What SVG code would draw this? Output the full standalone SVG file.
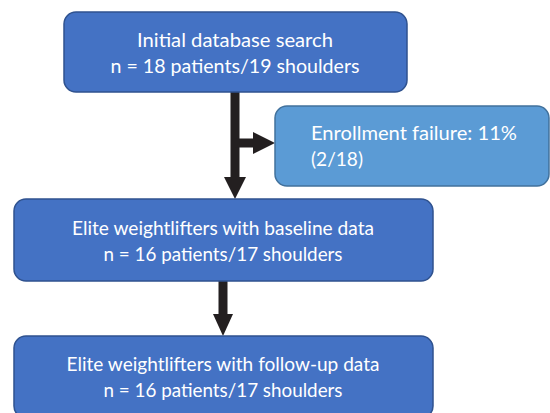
<svg xmlns="http://www.w3.org/2000/svg" width="550" height="413" viewBox="0 0 550 413">
<style>
.box{fill:#4472C4;stroke:#2F528F;stroke-width:1.5}
.side{fill:#5B9BD5;stroke:#41719C;stroke-width:1.5}
text{font-family:Lato,"Open Sans","Liberation Sans",sans-serif;font-size:18.5px;fill:#fff}
.c{text-anchor:middle}
.ln{stroke:#231F20;stroke-width:9;fill:none}
.ah{fill:#231F20}
</style>
<rect width="550" height="413" fill="#fff"/>
<g id="connectors">
<line class="ln" x1="235" y1="92" x2="235" y2="178"/>
<polygon class="ah" points="224,177 246,177 235,199"/>
<line class="ln" x1="235" y1="143" x2="256" y2="143"/>
<polygon class="ah" points="253,132 253,154 275,143"/>
<line class="ln" x1="223" y1="281" x2="223" y2="315"/>
<polygon class="ah" points="213,314 233,314 223,336"/>
</g>
<g id="n1">
<rect class="box" x="64" y="12" width="343" height="80" rx="12"/>
<text class="c" x="235" y="47" textLength="196" lengthAdjust="spacingAndGlyphs">Initial database search</text>
<text class="c" x="235" y="73" textLength="249" lengthAdjust="spacingAndGlyphs">n = 18 patients/19 shoulders</text>
</g>
<g id="n2">
<rect class="side" x="275" y="106" width="274" height="80" rx="12"/>
<text x="311" y="140" textLength="206" lengthAdjust="spacingAndGlyphs">Enrollment failure: 11%</text>
<text x="311" y="166" textLength="52" lengthAdjust="spacingAndGlyphs">(2/18)</text>
</g>
<g id="n3">
<rect class="box" x="14" y="199" width="419" height="82" rx="12"/>
<text class="c" x="223" y="235" textLength="302" lengthAdjust="spacingAndGlyphs">Elite weightlifters with baseline data</text>
<text class="c" x="223" y="261" textLength="239" lengthAdjust="spacingAndGlyphs">n = 16 patients/17 shoulders</text>
</g>
<g id="n4">
<rect class="box" x="14" y="336" width="419" height="82" rx="12"/>
<text class="c" x="223" y="371" textLength="313" lengthAdjust="spacingAndGlyphs">Elite weightlifters with follow-up data</text>
<text class="c" x="223" y="397" textLength="239" lengthAdjust="spacingAndGlyphs">n = 16 patients/17 shoulders</text>
</g>
</svg>
